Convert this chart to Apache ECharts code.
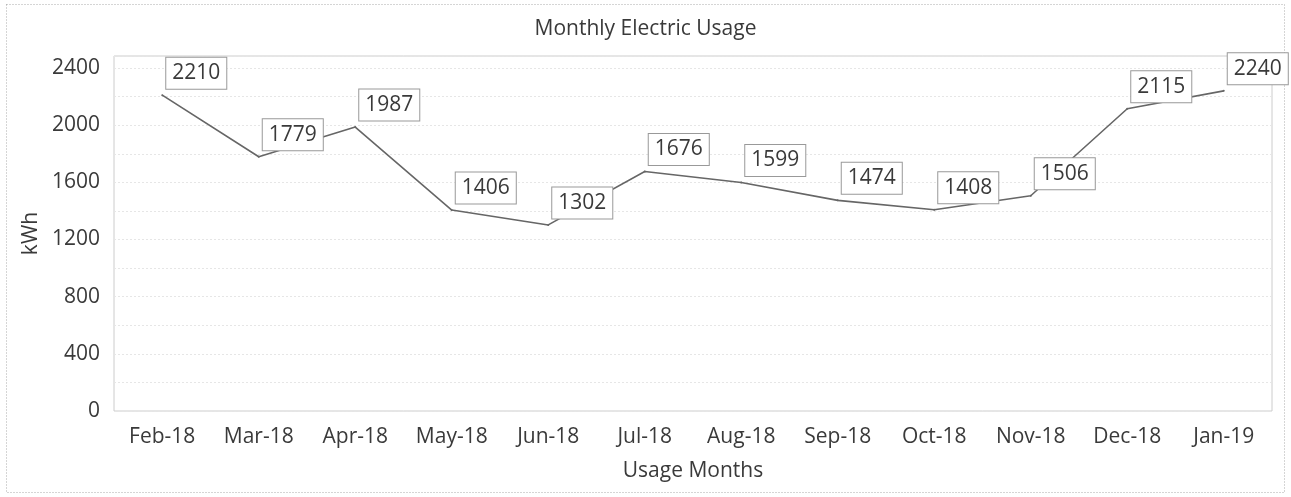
<!DOCTYPE html>
<html><head><meta charset="utf-8">
<script src="https://cdn.jsdelivr.net/npm/echarts@6/dist/echarts.min.js"></script>
<style>html,body{margin:0;padding:0;background:#fff}#c{width:1291px;height:497px}</style>
</head><body><div id="c"></div>
<script>
var categories = ['Feb-18','Mar-18','Apr-18','May-18','Jun-18','Jul-18','Aug-18','Sep-18','Oct-18','Nov-18','Dec-18','Jan-19'];
var usage = [2210,1779,1987,1406,1302,1676,1599,1474,1408,1506,2115,2240];
var yTicks = [0,400,800,1200,1600,2000,2400];

var FONT = '"Open Sans", "Noto Sans", sans-serif';
var chart = echarts.init(document.getElementById('c'));
chart.setOption({
  animation: false,
  backgroundColor: '#fff',
  textStyle: {fontFamily: FONT},
  title: {text: 'Monthly Electric Usage', left: 'center', top: 14,
    textStyle: {fontFamily: FONT, fontSize: 21, fontWeight: 'normal', color: '#3a3a3a'}},
  graphic: [{type: 'rect', shape: {x: 6.5, y: 4.5, width: 1278, height: 488},
    style: {fill: 'none', stroke: '#aaa', lineWidth: 1, lineDash: [1, 2]}, silent: true}],
  grid: {left: 114, right: 19, top: 56, bottom: 86, show: true, borderColor: '#ccc', borderWidth: 1},
  xAxis: {
    type: 'category', data: categories, boundaryGap: true,
    name: 'Usage Months', nameLocation: 'middle', nameGap: 50,
    nameTextStyle: {fontFamily: FONT, fontSize: 21, color: '#3a3a3a'},
    axisLine: {show: false}, axisTick: {show: false},
    axisLabel: {fontFamily: FONT, fontSize: 21, color: '#3a3a3a', margin: 16}
  },
  yAxis: {
    type: 'value', min: 0, max: 2484, interval: 200,
    name: 'kWh', nameLocation: 'middle', nameGap: 70, nameRotate: 90,
    nameTextStyle: {fontFamily: FONT, fontSize: 21, color: '#3a3a3a'},
    axisLine: {show: false}, axisTick: {show: false},
    axisLabel: {fontFamily: FONT, fontSize: 21, color: '#3a3a3a', margin: 14, showMaxLabel: false,
      formatter: function (v) { return yTicks.indexOf(v) >= 0 ? String(v) : ''; }},
    splitLine: {lineStyle: {color: '#e6e6e6', type: [2, 2], width: 1}}
  },
  series: [{
    type: 'line', data: usage, symbol: 'circle', symbolSize: 2,
    lineStyle: {color: '#666', width: 1.6},
    itemStyle: {color: '#666'},
    label: {show: true, position: 'right', distance: 3, offset: [0, -22],
      fontFamily: FONT, fontSize: 21, color: '#3a3a3a',
      backgroundColor: '#fff', borderColor: '#999', borderWidth: 1, padding: [6, 6, 4, 6]}
  }]
});
</script></body></html>
